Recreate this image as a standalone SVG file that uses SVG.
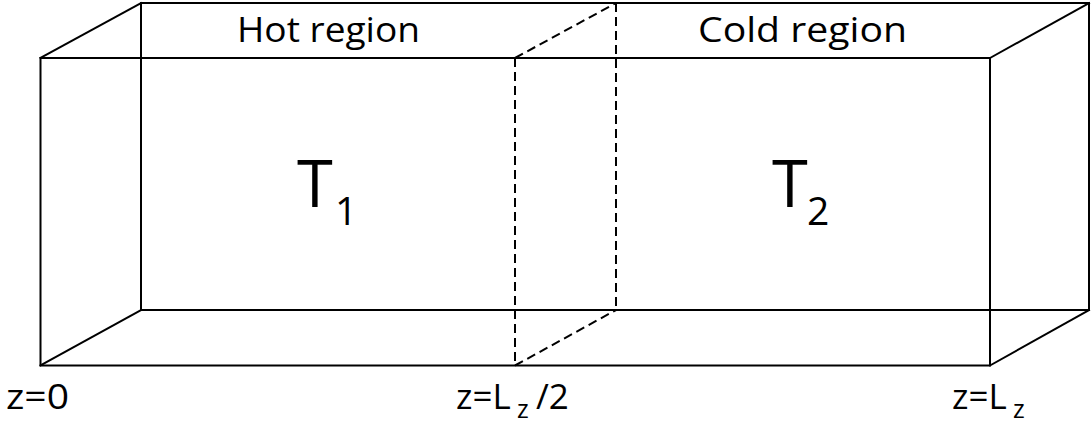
<svg xmlns="http://www.w3.org/2000/svg" width="1092" height="428" viewBox="0 0 1092 428">
<style>
.e{stroke:#000;stroke-width:2;fill:none;stroke-linecap:square}
.d{stroke:#000;stroke-width:2;fill:none;stroke-dasharray:9 5}
text{font-family:"Open Sans","Liberation Sans",sans-serif;fill:#000}
.lab{font-size:34px}
.big{font-size:65px}
.sub{font-size:39px}
.zl{font-size:35px}
.zs{font-size:25px}
</style>
<rect width="1092" height="428" fill="#fff"/>
<g id="connectors">
<rect class="e" x="141" y="3" width="948" height="307"/>
<rect class="e" x="40.5" y="58" width="949.5" height="307.5"/>
<line class="e" x1="40.5" y1="58" x2="141" y2="3"/>
<line class="e" x1="990" y1="58" x2="1089" y2="3"/>
<line class="e" x1="40.5" y1="365.5" x2="141" y2="310"/>
<line class="e" x1="990" y1="365.5" x2="1089" y2="310"/>
<line class="d" x1="515" y1="58" x2="515" y2="365.5"/>
<line class="d" x1="616" y1="3" x2="616" y2="310"/>
<line class="d" x1="515" y1="58" x2="616" y2="3"/>
<line class="d" x1="515" y1="365.5" x2="616" y2="310"/>
</g>
<g id="hot">
<text class="lab" x="237" y="42" textLength="183" lengthAdjust="spacingAndGlyphs">Hot region</text>
<text class="big" x="297" y="207">T</text><text class="sub" x="335" y="225">1</text>
</g>
<g id="cold">
<text class="lab" x="698" y="42" textLength="209" lengthAdjust="spacingAndGlyphs">Cold region</text>
<text class="big" x="772" y="207">T</text><text class="sub" x="807" y="225">2</text>
</g>
<g id="labels">
<text class="zl" x="6" y="409" textLength="63" lengthAdjust="spacingAndGlyphs">z=0</text>
<text class="zl" x="456" y="409">z=L<tspan class="zs" x="517" y="418">z</tspan><tspan x="536" y="409">/2</tspan></text>
<text class="zl" x="952" y="409">z=L<tspan class="zs" x="1013" y="418">z</tspan></text>
</g>
</svg>
